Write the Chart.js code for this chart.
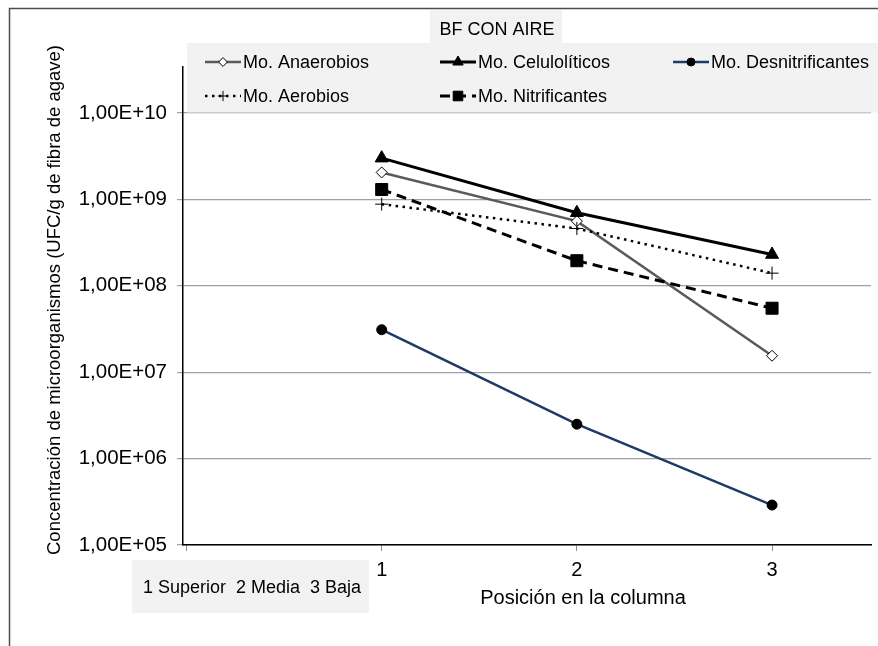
<!DOCTYPE html>
<html>
<head>
<meta charset="utf-8">
<title>BF CON AIRE</title>
<script src="https://cdn.jsdelivr.net/npm/chart.js@4.4.0/dist/chart.umd.min.js"></script>
<style>
  html, body { margin: 0; padding: 0; background: #fff; }
  #chart { display: block; }
</style>
</head>
<body>
<canvas id="chart" width="878" height="646"></canvas>
<script>
// Counts per position in the column (UFC/g)
var positions = [1, 2, 3];
var anaerobios = [2.05e9, 5.6e8, 1.55e7];
var celuloliticos = [3.0e9, 7.0e8, 2.3e8];
var desnitrificantes = [3.1e7, 2.5e6, 2.9e5];
var aerobios = [8.8e8, 4.6e8, 1.4e8];
var nitrificantes = [1.3e9, 1.95e8, 5.5e7];

var xTicks = [0, 1, 2, 3];
var yTicks = [1e5, 1e6, 1e7, 1e8, 1e9, 1e10];

var chartTitle = 'BF CON AIRE';
var positionNote = '1 Superior  2 Media  3 Baja';
var xTitle = 'Posición en la columna';
var yTitle = 'Concentración de microorganismos (UFC/g de fibra de agave)';

var FONT = '"Liberation Sans", Arial, sans-serif';
Chart.defaults.font.family = FONT;
Chart.defaults.color = '#000';

function points(values) {
    return positions.map(function (p, i) { return {x: p, y: values[i]}; });
}

var datasets = [
    {
        label: 'Mo. Anaerobios',
        data: points(anaerobios),
        borderColor: '#5a5a5a',
        borderWidth: 2.5,
        pointStyle: 'rectRot',
        pointRadius: 5.5,
        pointBackgroundColor: '#fff',
        pointBorderColor: '#000',
        pointBorderWidth: 1,
        order: 5
    },
    {
        label: 'Mo. Celulolíticos',
        data: points(celuloliticos),
        borderColor: '#000',
        borderWidth: 3,
        pointStyle: 'triangle',
        pointRadius: 7.5,
        pointBackgroundColor: '#000',
        pointBorderColor: '#000',
        pointBorderWidth: 1,
        order: 4
    },
    {
        label: 'Mo. Desnitrificantes',
        data: points(desnitrificantes),
        borderColor: '#1f3a66',
        borderWidth: 2.5,
        pointStyle: 'circle',
        pointRadius: 5,
        pointBackgroundColor: '#000',
        pointBorderColor: '#000',
        pointBorderWidth: 1,
        order: 3
    },
    {
        label: 'Mo. Aerobios',
        data: points(aerobios),
        borderColor: '#000',
        borderWidth: 2.5,
        borderDash: [2.5, 4.5],
        pointStyle: 'cross',
        pointRadius: 6.5,
        pointBackgroundColor: '#000',
        pointBorderColor: '#000',
        pointBorderWidth: 1,
        order: 2
    },
    {
        label: 'Mo. Nitrificantes',
        data: points(nitrificantes),
        borderColor: '#000',
        borderWidth: 3,
        borderDash: [10, 6],
        pointStyle: 'rect',
        pointRadius: 8.5,
        pointBackgroundColor: '#000',
        pointBorderColor: '#000',
        pointBorderWidth: 1,
        order: 1
    }
];

// Legend slots: [dataset index, sample x, row y]
var legendSlots = [
    [0, 205, 62], [1, 440, 62], [2, 673, 62],
    [3, 205, 96], [4, 440, 96]
];

function drawMarker(ctx, ds, x, y, scale) {
    ctx.save();
    ctx.fillStyle = ds.pointBackgroundColor;
    ctx.strokeStyle = ds.pointBorderColor;
    ctx.lineWidth = ds.pointBorderWidth;
    ctx.setLineDash([]);
    Chart.helpers.drawPoint(ctx, {
        pointStyle: ds.pointStyle,
        radius: ds.pointRadius * scale,
        borderWidth: ds.pointBorderWidth,
        rotation: 0
    }, x, y);
    ctx.restore();
}

// Frame, legend, boxed notes and axis titles
var decorations = {
    id: 'decorations',
    beforeDraw: function (chart) {
        var ctx = chart.ctx;
        ctx.save();
        ctx.fillStyle = '#fff';
        ctx.fillRect(0, 0, chart.width, chart.height);
        ctx.strokeStyle = '#4d4d4d';
        ctx.lineWidth = 1.5;
        ctx.beginPath();
        ctx.moveTo(9.5, chart.height);
        ctx.lineTo(9.5, 8.5);
        ctx.lineTo(chart.width, 8.5);
        ctx.stroke();
        ctx.restore();
    },
    afterDraw: function (chart) {
        var ctx = chart.ctx;
        ctx.save();

        // Legend
        ctx.fillStyle = '#f2f2f2';
        ctx.fillRect(187, 43, 691, 69.5);
        ctx.font = '18px ' + FONT;
        ctx.textBaseline = 'middle';
        ctx.textAlign = 'left';
        legendSlots.forEach(function (slot) {
            var ds = datasets[slot[0]];
            var x = slot[1], y = slot[2], len = 36;
            ctx.save();
            ctx.strokeStyle = ds.borderColor;
            ctx.lineWidth = ds.borderWidth;
            ctx.setLineDash(ds.borderDash || []);
            ctx.beginPath();
            ctx.moveTo(x, y);
            ctx.lineTo(x + len, y);
            ctx.stroke();
            ctx.restore();
            drawMarker(ctx, ds, x + len / 2, y, 0.8);
            ctx.fillStyle = '#000';
            ctx.fillText(ds.label, x + len + 2, y + 1);
        });

        // Title
        ctx.fillStyle = '#f2f2f2';
        ctx.fillRect(430, 10, 132, 33);
        ctx.fillStyle = '#000';
        ctx.textAlign = 'center';
        ctx.fillText(chartTitle, 497, 30);

        // Position key
        ctx.fillStyle = '#f2f2f2';
        ctx.fillRect(132, 560, 237, 53);
        ctx.fillStyle = '#000';
        ctx.textAlign = 'left';
        ctx.fillText(positionNote, 143, 588);

        // Axis titles
        ctx.font = '20px ' + FONT;
        ctx.textAlign = 'center';
        ctx.fillText(xTitle, 583, 598);

        ctx.font = '18.5px ' + FONT;
        ctx.translate(55, 300);
        ctx.rotate(-Math.PI / 2);
        ctx.fillText(yTitle, 0, 0);

        ctx.restore();
    }
};

var ctx = document.getElementById('chart').getContext('2d');
var myChart = new Chart(ctx, {
    type: 'line',
    data: {datasets: datasets},
    options: {
        responsive: false,
        animation: false,
        layout: {
            autoPadding: false,
            padding: {top: 67, right: 7, left: 0, bottom: 0}
        },
        elements: {line: {tension: 0, fill: false}},
        plugins: {
            legend: {display: false},
            tooltip: {enabled: false}
        },
        scales: {
            x: {
                type: 'linear',
                min: -0.018,
                max: 3.507,
                afterBuildTicks: function (axis) {
                    axis.ticks = xTicks.map(function (v) { return {value: v}; });
                },
                afterFit: function (axis) {
                    axis.height = 101;
                    axis.paddingLeft = 0;
                    axis.paddingRight = 0;
                },
                grid: {
                    drawOnChartArea: false,
                    drawTicks: true,
                    tickLength: 6,
                    color: '#8c8c8c'
                },
                border: {display: true, color: '#000', width: 1.5},
                ticks: {
                    autoSkip: false,
                    maxRotation: 0,
                    padding: 7,
                    font: {size: 20},
                    callback: function (v) { return v === 0 ? '' : String(v); }
                }
            },
            y: {
                type: 'logarithmic',
                min: 1e5,
                max: Math.pow(10, 10.532),
                afterBuildTicks: function (axis) {
                    axis.ticks = yTicks.map(function (v) { return {value: v}; });
                },
                afterFit: function (axis) {
                    axis.width = 183;
                    axis.paddingTop = 0;
                    axis.paddingBottom = 0;
                },
                grid: {
                    drawTicks: true,
                    tickLength: 6,
                    color: '#a0a0a0',
                    lineWidth: 1.2
                },
                border: {display: true, color: '#000', width: 1.5},
                ticks: {
                    autoSkip: false,
                    padding: 10,
                    font: {size: 20.5},
                    callback: function (v) {
                        var e = Math.round(Math.log10(v));
                        return '1,00E+' + (e < 10 ? '0' + e : e);
                    }
                }
            }
        }
    },
    plugins: [decorations]
});
</script>
</body>
</html>
